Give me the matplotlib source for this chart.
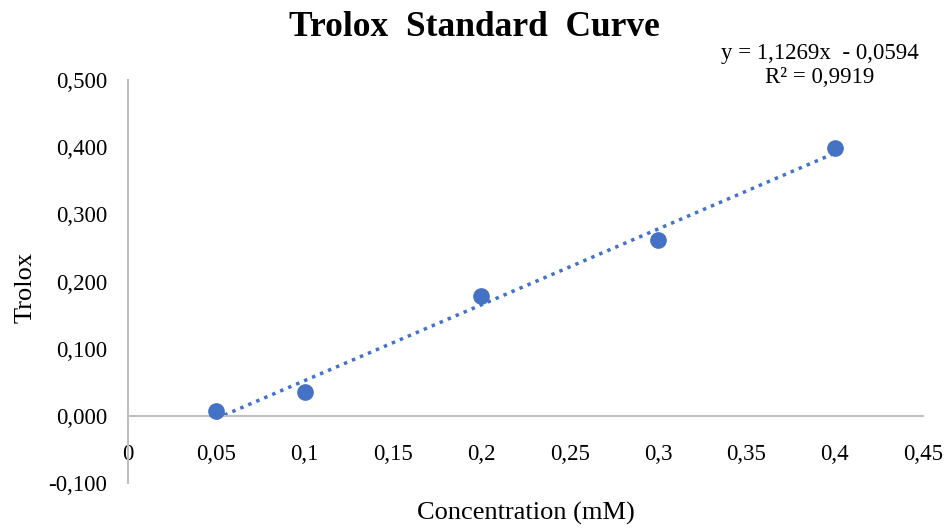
import matplotlib.pyplot as plt
import numpy as np
from matplotlib.ticker import FuncFormatter, MultipleLocator

# data
conc = [0.05, 0.1, 0.2, 0.3, 0.4]
trolox = [0.007, 0.036, 0.179, 0.262, 0.399]
eq_text = "y = 1,1269x  - 0,0594\nR² = 0,9919"

blue = '#4472C4'
grey = '#BFBFBF'

plt.rcParams['font.family'] = ['Liberation Serif', 'DejaVu Serif']

fig = plt.figure(figsize=(9.49, 5.28), dpi=100)
ax = fig.add_axes([0.1349, 0.0852, 0.8377, 0.7633])

ax.plot(conc, trolox, 'o', color=blue, markersize=11, zorder=3)

# linear trendline over the data range
k, b = np.polyfit(conc, trolox, 1)
xs = np.array([min(conc), max(conc)])
ax.plot(xs, k * xs + b, linestyle=(0, (1, 1.5)), color=blue, linewidth=2.5, zorder=2)

ax.set_xlim(0, 0.45)
ax.set_ylim(-0.1, 0.5)
ax.xaxis.set_major_locator(MultipleLocator(0.05))
ax.yaxis.set_major_locator(MultipleLocator(0.1))
ax.xaxis.set_major_formatter(FuncFormatter(lambda v, p: f"{round(v, 2):g}".replace('.', ',')))
ax.yaxis.set_major_formatter(FuncFormatter(lambda v, p: f"{v:.3f}".replace('.', ',')))

for s in ['top', 'right']:
    ax.spines[s].set_visible(False)
ax.spines['bottom'].set_position(('data', 0))
for s in ['bottom', 'left']:
    ax.spines[s].set_color(grey)
    ax.spines[s].set_linewidth(1.5)

ax.tick_params(axis='x', length=0, pad=20, labelsize=16.5)
ax.tick_params(axis='y', length=0, pad=15, labelsize=16.5)

fig.text(0.554, 0.028, 'Concentration (mM)', ha='center', va='center', fontsize=19)
fig.text(0.027, 0.456, 'Trolox', ha='center', va='center', rotation=90, fontsize=19)
fig.text(0.500, 0.947, 'Trolox  Standard  Curve', ha='center', va='center',
         fontsize=25.5, fontweight='bold')
fig.text(0.864, 0.876, eq_text, ha='center', va='center', fontsize=16.5, linespacing=1.2)

fig.savefig('out.png', dpi=100)
